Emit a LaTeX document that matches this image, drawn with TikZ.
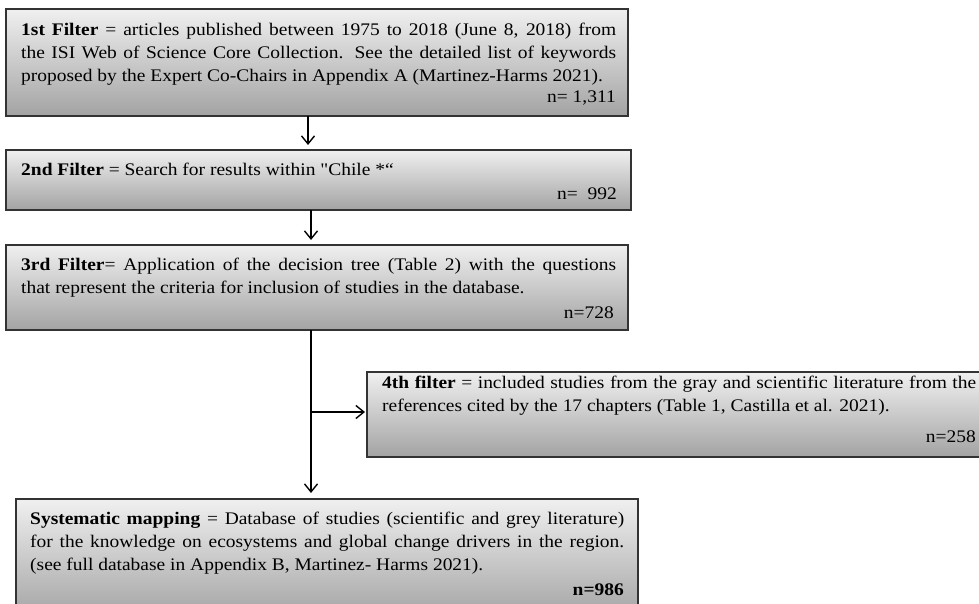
\documentclass[tikz,border=0pt]{standalone}
\usepackage{fontspec}
\setmainfont{Liberation Serif}[Ligatures=TeXOff, FakeStretch=1.1]
\usetikzlibrary{arrows.meta}
\tikzset{
  fbox/.style={draw=black!80, line width=1.3pt, top color=black!6, bottom color=black!36,
    anchor=north west, inner sep=0pt, outer sep=0pt},
  ftext/.style={anchor=north west, inner sep=0pt, text width=595pt, align=justify,
    font=\fontsize{17.7}{23}\selectfont},
  fnum/.style={anchor=base east, inner sep=0pt, font=\fontsize{17.7}{23}\selectfont},
  arr/.style={draw=black, line width=1.4pt, -{Straight Barb[length=8pt,width=13pt]}},
}
\begin{document}
\begin{tikzpicture}[x=1pt,y=-1pt]
\useasboundingbox (0,0) rectangle (979,604);
\clip (0,0) rectangle (979,604);
% boxes
\node[fbox, minimum width=622pt, minimum height=107pt] (b1) at (6,9) {};
\node[fbox, minimum width=625pt, minimum height=60pt] (b2) at (6,150) {};
\node[fbox, minimum width=622pt, minimum height=85pt] (b3) at (6,245) {};
\node[fbox, minimum width=630pt, minimum height=85pt] (b4) at (367,372) {};
\node[fbox, minimum width=622pt, minimum height=120pt] (b5) at (16,499) {};
% texts
\node[ftext] (t1) at (21,21) {\rule{0pt}{14pt}\textbf{1st Filter} = articles published between 1975 to 2018 (June 8, 2018) from\linebreak the ISI Web of Science Core Collection. See the detailed list of keywords\linebreak proposed by the Expert Co-Chairs in Appendix A (Martinez-Harms 2021).};
\node[fnum] (n1) at (616,103) {n= 1,311};
\node[ftext] (t2) at (21,161) {\rule{0pt}{14pt}\textbf{2nd Filter} = Search for results within "Chile *“};
\node[fnum] (n2) at (617,200) {n=\ \ 992};
\node[ftext] (t3) at (21,256) {\rule{0pt}{14pt}\textbf{3rd Filter}= Application of the decision tree (Table 2) with the questions\linebreak that represent the criteria for inclusion of studies in the database.};
\node[fnum] (n3) at (614,318) {n=728};
\node[ftext, text width=594pt] (t4) at (382,374) {\rule{0pt}{14pt}\textbf{4th filter} = included studies from the gray and scientific literature from the\linebreak references cited by the 17 chapters (Table 1, Castilla et al. 2021).};
\node[fnum] (n4) at (976,442) {n=258};
\node[ftext, text width=594pt] (t5) at (30,510) {\rule{0pt}{14pt}\textbf{Systematic mapping} = Database of studies (scientific and grey literature)\linebreak for the knowledge on ecosystems and global change drivers in the region.\linebreak (see full database in Appendix B, Martinez- Harms 2021).};
\node[fnum] (n5) at (624,595) {\textbf{n=986}};
% connectors
\coordinate (ax1) at (308,0);
\coordinate (ax2) at (311,0);
\coordinate (br) at (311,412);
\draw[arr, shorten >=5pt] (b1.south -| ax1) -- (b2.north -| ax1);
\draw[arr, shorten >=5pt] (b2.south -| ax2) -- (b3.north -| ax2);
\draw[arr, shorten >=6pt] (b3.south -| ax2) -- (b5.north -| ax2);
\draw[arr, shorten >=2pt] (br) -- (br -| b4.west);
\end{tikzpicture}
\end{document}
